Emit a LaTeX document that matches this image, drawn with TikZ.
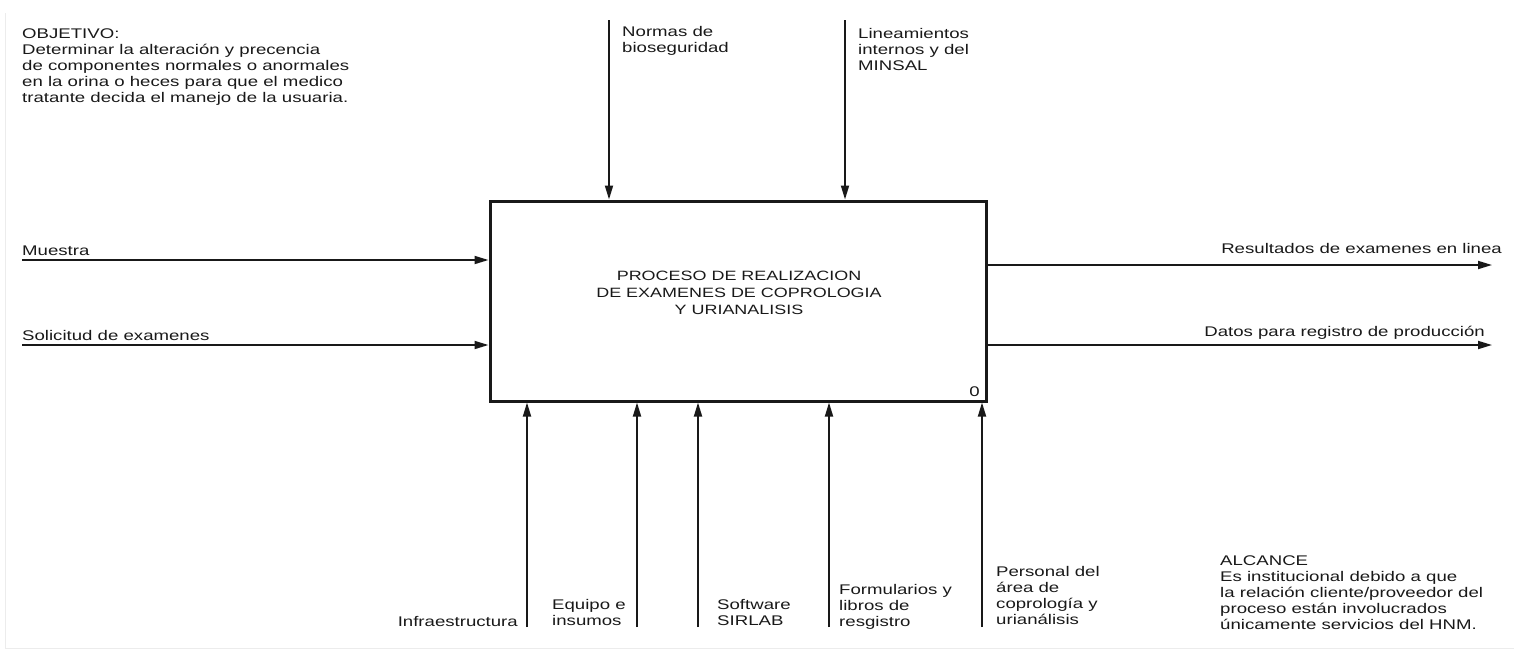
\documentclass[tikz,border=0pt]{standalone}
\usepackage{fontspec}
\setmainfont[FakeStretch=1.33]{Liberation Sans}
\usetikzlibrary{arrows.meta,positioning,calc}
\definecolor{inkBlack}{RGB}{25,25,25}
\definecolor{frameGray}{RGB}{236,236,236}
\tikzset{
  idef box/.style={draw=inkBlack,line width=3pt,minimum width=496pt,minimum height=200pt,inner sep=0pt},
  idef arrow/.style={-{Triangle[length=14pt,width=8pt]},line width=1.8pt,draw=inkBlack},
  idef text/.style={inner sep=0pt,text=inkBlack,font=\fontsize{14}{16}\selectfont,align=left},
  idef text right/.style={idef text,align=right},
  idef title/.style={inner sep=0pt,text=inkBlack,font=\fontsize{13.5}{17}\selectfont,align=center}
}
\begin{document}
\begin{tikzpicture}[x=1pt,y=-1pt]
  \useasboundingbox (0,0) rectangle (1522,654);
  \draw[frameGray,line width=1pt] (5,13) -- (5,648) -- (1514,648);
  % activity box
  \node[idef box] (proc) at (738,301) {};
  \node[idef title,anchor=base] (proctitle) at (739,314) {PROCESO DE REALIZACION\\DE EXAMENES DE COPROLOGIA\\Y URIANALISIS};
  \node[idef text,anchor=base east] (procnum) at (980,396) {0};
  % objective and scope
  \node[idef text,anchor=base west] (objetivo) at (22,102) {OBJETIVO:\\Determinar la alteración y precencia\\de componentes normales o anormales\\en la orina o heces para que el medico\\tratante decida el manejo de la usuaria.};
  \node[idef text,anchor=base west] (alcance) at (1220,629) {ALCANCE\\Es institucional debido a que\\la relación cliente/proveedor del\\proceso están involucrados\\únicamente servicios del HNM.};
  % inputs
  \coordinate (muestraIn) at (22,260);
  \coordinate (solicitudIn) at (22,345);
  \draw[idef arrow] (muestraIn) -- (muestraIn -| proc.west);
  \draw[idef arrow] (solicitudIn) -- (solicitudIn -| proc.west);
  \node[idef text,anchor=base west] (muestra) at (22,255) {Muestra};
  \node[idef text,anchor=base west] (solicitud) at (22,340) {Solicitud de examenes};
  % outputs
  \coordinate (resultadosOut) at (1492,265);
  \coordinate (datosOut) at (1492,345);
  \draw[idef arrow] (resultadosOut -| proc.east) -- (resultadosOut);
  \draw[idef arrow] (datosOut -| proc.east) -- (datosOut);
  \node[idef text,anchor=base east] (resultados) at (1502,253) {Resultados de examenes en linea};
  \node[idef text,anchor=base east] (datos) at (1485,336) {Datos para registro de producción};
  % controls
  \coordinate (normasTop) at (609,20);
  \coordinate (lineamientosTop) at (845,20);
  \draw[idef arrow] (normasTop) -- (normasTop |- proc.north);
  \draw[idef arrow] (lineamientosTop) -- (lineamientosTop |- proc.north);
  \node[idef text,anchor=base west] (normas) at (622,52) {Normas de\\bioseguridad};
  \node[idef text,anchor=base west] (lineamientos) at (858,70) {Lineamientos\\internos y del\\MINSAL};
  % mechanisms
  \foreach \mx/\mname in {527/infra,637/equipo,698/software,829/formularios,982/personal}{
    \coordinate (\mname Bot) at (\mx,627);
    \draw[idef arrow] (\mname Bot) -- (\mname Bot |- proc.south);
  }
  \node[idef text right,anchor=base east] (infraestructura) at (518,626) {Infraestructura};
  \node[idef text,anchor=base west] (equipo) at (552,625) {Equipo e\\insumos};
  \node[idef text,anchor=base west] (software) at (717,625) {Software\\SIRLAB};
  \node[idef text,anchor=base west] (formularios) at (839,626) {Formularios y\\libros de\\resgistro};
  \node[idef text,anchor=base west] (personal) at (996,624) {Personal del\\área de\\coprología y\\urianálisis};
\end{tikzpicture}
\end{document}
